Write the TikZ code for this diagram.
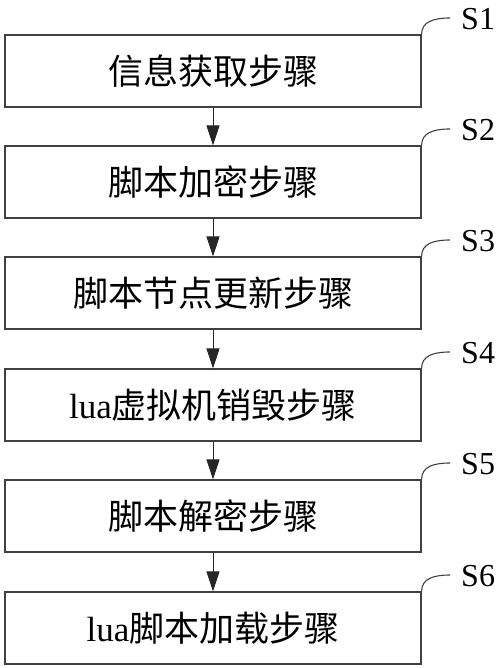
\documentclass[tikz,border=0pt]{standalone}
\usepackage{fontspec}
\setmainfont{Liberation Serif}
\newfontfamily\cjk{Noto Sans CJK SC}
\usetikzlibrary{arrows.meta}

\tikzset{
  stepbox/.style={draw=black!75, line width=1.1pt, minimum width=416pt,
    minimum height=72pt, inner sep=0pt, font=\fontsize{35}{38}\selectfont},
  steplabel/.style={anchor=west, inner sep=0pt, font=\fontsize{32}{35}\selectfont},
  flow/.style={draw=black!85, line width=1pt, -{Triangle[length=20pt,width=13pt]}},
  hook/.style={draw=black!75, line width=1.1pt}
}

\begin{document}
\begin{tikzpicture}[x=1pt, y=-1pt]

\useasboundingbox (0,0) rectangle (500,668);

% boxes
\node[stepbox] (b1) at (213, 71) {\cjk 信息获取步骤};
\node[stepbox] (b2) at (213,182) {\cjk 脚本加密步骤};
\node[stepbox] (b3) at (213,293) {\cjk 脚本节点更新步骤};
\node[stepbox] (b4) at (213,405) {lua{\cjk 虚拟机销毁步骤}};
\node[stepbox] (b5) at (213,516) {\cjk 脚本解密步骤};
\node[stepbox] (b6) at (213,628) {lua{\cjk 脚本加载步骤}};

% step labels
\coordinate (c1) at (450, 18);
\coordinate (c2) at (450,129);
\coordinate (c3) at (450,240);
\coordinate (c4) at (450,352);
\coordinate (c5) at (450,463);
\coordinate (c6) at (450,575);

\node[steplabel] (s1) at (461, 19) {S1};
\node[steplabel] (s2) at (461,130) {S2};
\node[steplabel] (s3) at (461,241) {S3};
\node[steplabel] (s4) at (461,353) {S4};
\node[steplabel] (s5) at (461,464) {S5};
\node[steplabel] (s6) at (461,576) {S6};

\draw[hook] (b1.north east) .. controls +(0,-13) and +(-16,0) .. (c1);
\draw[hook] (b2.north east) .. controls +(0,-13) and +(-16,0) .. (c2);
\draw[hook] (b3.north east) .. controls +(0,-13) and +(-16,0) .. (c3);
\draw[hook] (b4.north east) .. controls +(0,-13) and +(-16,0) .. (c4);
\draw[hook] (b5.north east) .. controls +(0,-13) and +(-16,0) .. (c5);
\draw[hook] (b6.north east) .. controls +(0,-13) and +(-16,0) .. (c6);

% arrows
\draw[flow] (b1) -- (b2);
\draw[flow] (b2) -- (b3);
\draw[flow] (b3) -- (b4);
\draw[flow] (b4) -- (b5);
\draw[flow] (b5) -- (b6);

\end{tikzpicture}
\end{document}
